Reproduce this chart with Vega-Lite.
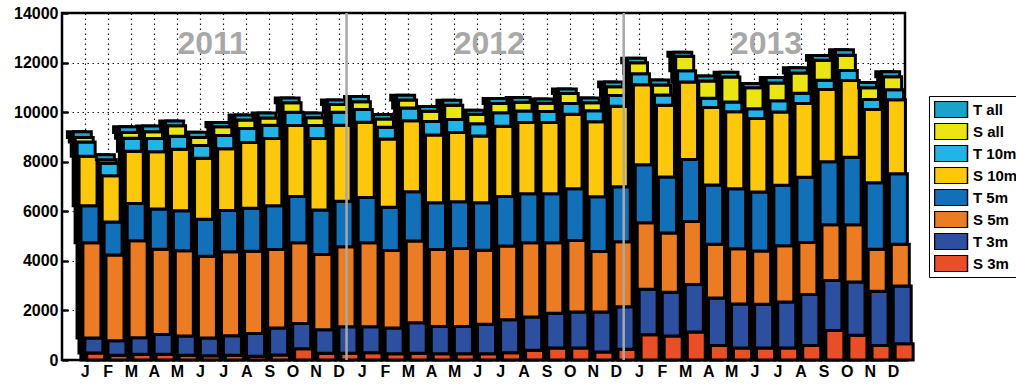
{
  "$schema": "https://vega.github.io/schema/vega-lite/v6.json",
  "width": 843,
  "height": 347,
  "autosize": "none",
  "padding": {"left": 62, "top": 13, "right": 111, "bottom": 25},
  "background": "white",
  "config": {
    "font": "Liberation Sans",
    "view": {"stroke": "black", "strokeWidth": 2.5},
    "axis": {"labelFont": "Liberation Sans", "labelFontWeight": "bold", "labelColor": "black", "labelFontSize": 16, "domain": false, "gridColor": "black", "gridDash": [1.5, 3.5], "gridWidth": 1.2, "gridOpacity": 0.9}
  },
  "datasets": {
    "counts": [
      {"m": "2011-01", "S 3m": 280, "T 3m": 605, "S 5m": 3845, "T 5m": 1490, "S 10m": 2000, "T 10m": 580, "S all": 175, "T all": 230},
      {"m": "2011-02", "S 3m": 190, "T 3m": 590, "S 5m": 3455, "T 5m": 1330, "S 10m": 1870, "T 10m": 500, "S all": 145, "T all": 200},
      {"m": "2011-03", "S 3m": 230, "T 3m": 670, "S 5m": 3910, "T 5m": 1505, "S 10m": 2110, "T 10m": 525, "S all": 230, "T all": 230},
      {"m": "2011-04", "S 3m": 230, "T 3m": 795, "S 5m": 3440, "T 5m": 1625, "S 10m": 2310, "T 10m": 540, "S all": 270, "T all": 230},
      {"m": "2011-05", "S 3m": 190, "T 3m": 780, "S 5m": 3440, "T 5m": 1615, "S 10m": 2475, "T 10m": 525, "S all": 430, "T all": 190},
      {"m": "2011-06", "S 3m": 175, "T 3m": 710, "S 5m": 3305, "T 5m": 1490, "S 10m": 2460, "T 10m": 510, "S all": 325, "T all": 215},
      {"m": "2011-07", "S 3m": 190, "T 3m": 790, "S 5m": 3385, "T 5m": 1670, "S 10m": 2485, "T 10m": 540, "S all": 350, "T all": 175},
      {"m": "2011-08", "S 3m": 150, "T 3m": 915, "S 5m": 3320, "T 5m": 1735, "S 10m": 2660, "T 10m": 565, "S all": 335, "T all": 200},
      {"m": "2011-09", "S 3m": 200, "T 3m": 1090, "S 5m": 3170, "T 5m": 1760, "S 10m": 2715, "T 10m": 535, "S all": 295, "T all": 200},
      {"m": "2011-10", "S 3m": 455, "T 3m": 1020, "S 5m": 3255, "T 5m": 1870, "S 10m": 2865, "T 10m": 535, "S all": 375, "T all": 200},
      {"m": "2011-11", "S 3m": 270, "T 3m": 955, "S 5m": 3035, "T 5m": 1790, "S 10m": 2890, "T 10m": 525, "S all": 310, "T all": 190},
      {"m": "2011-12", "S 3m": 270, "T 3m": 1075, "S 5m": 3225, "T 5m": 1830, "S 10m": 3075, "T 10m": 525, "S all": 310, "T all": 175},
      {"m": "2012-01", "S 3m": 295, "T 3m": 1050, "S 5m": 3385, "T 5m": 1830, "S 10m": 3035, "T 10m": 510, "S all": 310, "T all": 215},
      {"m": "2012-02", "S 3m": 255, "T 3m": 1035, "S 5m": 3130, "T 5m": 1745, "S 10m": 2755, "T 10m": 470, "S all": 335, "T all": 175},
      {"m": "2012-03", "S 3m": 270, "T 3m": 1235, "S 5m": 3295, "T 5m": 1990, "S 10m": 2865, "T 10m": 510, "S all": 320, "T all": 200},
      {"m": "2012-04", "S 3m": 255, "T 3m": 1100, "S 5m": 3105, "T 5m": 1880, "S 10m": 2740, "T 10m": 540, "S all": 415, "T all": 190},
      {"m": "2012-05", "S 3m": 255, "T 3m": 1100, "S 5m": 3145, "T 5m": 1880, "S 10m": 2795, "T 10m": 525, "S all": 580, "T all": 200},
      {"m": "2012-06", "S 3m": 255, "T 3m": 1185, "S 5m": 2985, "T 5m": 1920, "S 10m": 2690, "T 10m": 495, "S all": 390, "T all": 160},
      {"m": "2012-07", "S 3m": 295, "T 3m": 1330, "S 5m": 2970, "T 5m": 2005, "S 10m": 2835, "T 10m": 540, "S all": 375, "T all": 200},
      {"m": "2012-08", "S 3m": 390, "T 3m": 1345, "S 5m": 2995, "T 5m": 1975, "S 10m": 2875, "T 10m": 470, "S all": 350, "T all": 190},
      {"m": "2012-09", "S 3m": 485, "T 3m": 1400, "S 5m": 2850, "T 5m": 1975, "S 10m": 2875, "T 10m": 445, "S all": 325, "T all": 175},
      {"m": "2012-10", "S 3m": 485, "T 3m": 1450, "S 5m": 2890, "T 5m": 2085, "S 10m": 3010, "T 10m": 430, "S all": 405, "T all": 175},
      {"m": "2012-11", "S 3m": 325, "T 3m": 1610, "S 5m": 2445, "T 5m": 2205, "S 10m": 3025, "T 10m": 445, "S all": 325, "T all": 190},
      {"m": "2012-12", "S 3m": 430, "T 3m": 1720, "S 5m": 2620, "T 5m": 2220, "S 10m": 3250, "T 10m": 430, "S all": 350, "T all": 200},
      {"m": "2013-01", "S 3m": 1020, "T 3m": 1830, "S 5m": 2690, "T 5m": 2340, "S 10m": 3225, "T 10m": 445, "S all": 445, "T all": 175},
      {"m": "2013-02", "S 3m": 970, "T 3m": 1760, "S 5m": 2395, "T 5m": 2260, "S 10m": 2890, "T 10m": 415, "S all": 405, "T all": 200},
      {"m": "2013-03", "S 3m": 1130, "T 3m": 1920, "S 5m": 2540, "T 5m": 2500, "S 10m": 3130, "T 10m": 455, "S all": 580, "T all": 160},
      {"m": "2013-04", "S 3m": 590, "T 3m": 1910, "S 5m": 2175, "T 5m": 2390, "S 10m": 3120, "T 10m": 375, "S all": 700, "T all": 200},
      {"m": "2013-05", "S 3m": 485, "T 3m": 1775, "S 5m": 2230, "T 5m": 2420, "S 10m": 3105, "T 10m": 390, "S all": 1010, "T all": 190},
      {"m": "2013-06", "S 3m": 485, "T 3m": 1760, "S 5m": 2150, "T 5m": 2380, "S 10m": 2970, "T 10m": 390, "S all": 845, "T all": 175},
      {"m": "2013-07", "S 3m": 485, "T 3m": 1855, "S 5m": 2270, "T 5m": 2445, "S 10m": 2955, "T 10m": 445, "S all": 725, "T all": 215},
      {"m": "2013-08", "S 3m": 590, "T 3m": 2055, "S 5m": 2095, "T 5m": 2635, "S 10m": 2970, "T 10m": 415, "S all": 820, "T all": 215},
      {"m": "2013-09", "S 3m": 1195, "T 3m": 2015, "S 5m": 2245, "T 5m": 2540, "S 10m": 2915, "T 10m": 375, "S all": 805, "T all": 200},
      {"m": "2013-10", "S 3m": 995, "T 3m": 2150, "S 5m": 2310, "T 5m": 2730, "S 10m": 3090, "T 10m": 405, "S all": 620, "T all": 215},
      {"m": "2013-11", "S 3m": 590, "T 3m": 2180, "S 5m": 1695, "T 5m": 2690, "S 10m": 2955, "T 10m": 405, "S all": 470, "T all": 215},
      {"m": "2013-12", "S 3m": 660, "T 3m": 2325, "S 5m": 1680, "T 5m": 2850, "S 10m": 2985, "T 10m": 405, "S all": 525, "T all": 200}
    ],
    "years": [
      {"year": "2011", "m": "2011-06"},
      {"year": "2012", "m": "2012-06"},
      {"year": "2013", "m": "2013-06"}
    ],
    "seps": [
      {"m": "2011-12"},
      {"m": "2012-12"}
    ]
  },
  "layer": [
    {
      "data": {"name": "counts"},
      "transform": [
        {"fold": ["S 3m", "T 3m", "S 5m", "T 5m", "S 10m", "T 10m", "S all", "T all"], "as": ["series", "value"]},
        {"calculate": "indexof(['S 3m','T 3m','S 5m','T 5m','S 10m','T 10m','S all','T all'], datum.series)", "as": "k"},
        {"stack": "value", "groupby": ["m"], "sort": [{"field": "k", "order": "ascending"}], "as": ["v0", "v1"]}
      ],
      "mark": {"type": "bar", "color": "black", "stroke": "black", "strokeWidth": 3, "width": {"band": 0.97}},
      "encoding": {
        "x": {
          "field": "m", "type": "nominal", "title": null,
          "scale": {"paddingInner": 0, "paddingOuter": 0.25, "align": 1},
          "axis": {"labelExpr": "substring('JFMAMJJASOND', toNumber(slice(datum.value,5))-1, toNumber(slice(datum.value,5)))", "labelAngle": 0, "ticks": false, "labelPadding": 3, "grid": true, "bandPosition": 0.5}
        },
        "y": {
          "field": "v1", "type": "quantitative", "title": null,
          "scale": {"domain": [0, 14000], "nice": false},
          "axis": {"values": [0, 2000, 4000, 6000, 8000, 10000, 12000, 14000], "format": "d", "grid": true, "ticks": true, "tickSize": -6, "tickWidth": 2.5, "tickColor": "black", "labelPadding": 10}
        },
        "y2": {"field": "v0"},
        "xOffset": {"field": "k", "type": "quantitative", "scale": {"domain": [0, 7], "range": [7, -6.5]}}
      }
    },
    {
      "data": {"name": "counts"},
      "transform": [
        {"fold": ["S 3m", "T 3m", "S 5m", "T 5m", "S 10m", "T 10m", "S all", "T all"], "as": ["series", "value"]},
        {"calculate": "indexof(['S 3m','T 3m','S 5m','T 5m','S 10m','T 10m','S all','T all'], datum.series)", "as": "k"},
        {"stack": "value", "groupby": ["m"], "sort": [{"field": "k", "order": "ascending"}], "as": ["v0", "v1"]}
      ],
      "mark": {"type": "bar", "stroke": "black", "strokeWidth": 3, "width": {"band": 0.46}},
      "encoding": {
        "x": {"field": "m", "type": "nominal"},
        "y": {"field": "v1", "type": "quantitative"},
        "y2": {"field": "v0"},
        "xOffset": {"field": "k", "type": "quantitative"},
        "color": {
          "field": "series", "type": "nominal",
          "scale": {
            "domain": ["T all", "S all", "T 10m", "S 10m", "T 5m", "S 5m", "T 3m", "S 3m"],
            "range": ["#1ba2c8", "#ece514", "#22b4e6", "#fdc70c", "#1270b8", "#eb7c23", "#2d4f9f", "#e94e27"]
          },
          "legend": {
            "orient": "none", "legendX": 867, "legendY": 83, "title": null,
            "symbolType": "M-2,-1H2V1H-2Z", "symbolSize": 272, "symbolOffset": 8,
            "symbolStrokeColor": "black", "symbolStrokeWidth": 1.5, "symbolOpacity": 1,
            "labelFontSize": 15, "labelFontWeight": "bold", "labelColor": "black", "labelFont": "Liberation Sans",
            "labelOffset": 13, "labelLimit": 300, "rowPadding": 5, "clipHeight": 17,
            "strokeColor": "black", "fillColor": "white", "padding": 5
          }
        }
      }
    },
    {
      "data": {"name": "seps"},
      "mark": {"type": "rule", "color": "#a8a8a8", "strokeWidth": 2.5},
      "encoding": {
        "x": {"field": "m", "type": "nominal", "bandPosition": 0.82}
      }
    },
    {
      "data": {"name": "years"},
      "mark": {"type": "text", "fontSize": 32, "fontWeight": "bold", "color": "#a8a8a8", "baseline": "middle", "align": "center", "font": "Liberation Sans"},
      "encoding": {
        "x": {"field": "m", "type": "nominal", "bandPosition": 1},
        "y": {"datum": 12760, "type": "quantitative"},
        "text": {"field": "year"}
      }
    }
  ]
}
